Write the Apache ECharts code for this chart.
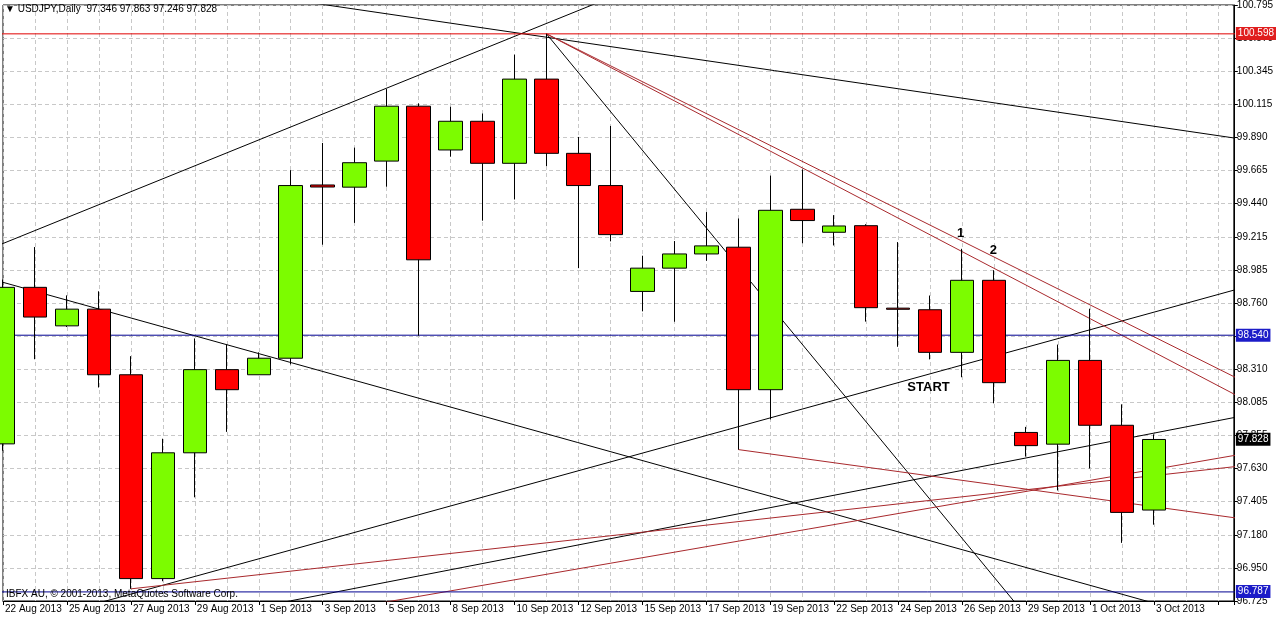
<!DOCTYPE html>
<html><head><meta charset="utf-8">
<script src="https://cdn.jsdelivr.net/npm/echarts@6/dist/echarts.min.js"></script>
<style>html,body{margin:0;padding:0;background:#fff;}#chart{width:1276px;height:619px;}</style>
</head><body><div id="chart"></div>
<script>
// ---- data ----
const barDates = ['22 Aug 2013','23 Aug 2013','25 Aug 2013','26 Aug 2013','27 Aug 2013','28 Aug 2013','29 Aug 2013','30 Aug 2013',
  '1 Sep 2013','2 Sep 2013','3 Sep 2013','4 Sep 2013','5 Sep 2013','6 Sep 2013','8 Sep 2013','9 Sep 2013','10 Sep 2013','11 Sep 2013',
  '12 Sep 2013','13 Sep 2013','15 Sep 2013','16 Sep 2013','17 Sep 2013','18 Sep 2013','19 Sep 2013','20 Sep 2013','22 Sep 2013',
  '23 Sep 2013','24 Sep 2013','25 Sep 2013','26 Sep 2013','27 Sep 2013','29 Sep 2013','30 Sep 2013','1 Oct 2013','2 Oct 2013','3 Oct 2013'];
const opens  = [97.798,98.867,98.604,98.718,98.270,96.878,97.737,98.305,98.270,98.383,99.566,99.551,99.729,100.104,99.805,100.001,99.714,100.289,
  99.782,99.562,98.839,98.998,99.095,99.141,98.168,99.400,99.243,99.288,98.725,98.714,98.423,98.915,97.876,97.796,98.368,97.925,97.346];
const closes = [98.867,98.664,98.718,98.270,96.878,97.737,98.305,98.168,98.383,99.562,99.552,99.718,100.104,99.055,100.001,99.714,100.289,99.782,
  99.562,99.227,98.998,99.095,99.150,98.168,99.393,99.323,99.286,98.728,98.717,98.423,98.915,98.216,97.786,98.368,97.925,97.330,97.828];
const lows   = [97.751,98.376,98.596,98.183,96.808,96.860,97.433,97.880,98.270,98.341,99.158,99.307,99.554,98.537,99.759,99.322,99.467,99.695,
  98.998,99.181,98.703,98.632,99.048,97.759,97.965,99.168,99.153,98.633,98.461,98.375,98.253,98.075,97.711,97.480,97.630,97.122,97.246];
const highs  = [98.920,99.142,98.812,98.840,98.397,97.833,98.518,98.477,98.423,99.667,99.853,99.821,100.221,100.123,100.100,100.054,100.456,100.598,
  99.894,99.969,99.083,99.183,99.381,99.337,99.630,99.672,99.360,99.298,99.176,98.811,99.130,98.984,97.914,98.476,98.721,98.068,97.863];
const yTickLabels = ['96.725','96.950','97.180','97.405','97.630','97.855','98.085','98.310','98.540','98.760','98.985','99.215','99.440',
  '99.665','99.890','100.115','100.345','100.570','100.795'];
const redLevel = 100.598;
const blueLevels = [98.540, 96.787];
const lastPrice = 97.828;
// trendlines: [barIndex, price] end points
const blackTrendlines = [
  [[-1, 99.078], [19, 100.846]],
  [[-1, 98.962], [40, 96.467]],
  [[9, 100.831], [40, 99.839]],
  [[17, 100.598], [33, 96.358]],
  [[2, 96.652], [40, 98.938]],
  [[8, 96.684], [40, 98.041]]
];
const redTrendlines = [
  [[17, 100.598], [40, 98.094]],
  [[17, 100.598], [40, 97.967]],
  [[4, 96.808], [40, 97.678]],
  [[11, 96.681], [40, 97.775]],
  [[23, 97.759], [40, 97.249]]
];
const annotations = [
  {text: '1', idx: 29.95, price: 99.238},
  {text: '2', idx: 30.98, price: 99.118},
  {text: 'START', idx: 28.95, price: 98.184}
];
const symbolName = 'USDJPY,Daily';
const copyright = 'IBFX AU, \u00a9 2001-2013, MetaQuotes Software Corp.';

// ---- chart ----
const FONT = '"Liberation Sans", Arial, "DejaVu Sans", sans-serif';
const Y_MIN = 96.725, Y_MAX = 100.795;
const Y_INT = (Y_MAX - Y_MIN) / 18;
const X_MIN = 0, X_MAX = 38.5;
const last = opens.length - 1;
const candleData = opens.map((o, i) => [i, o, closes[i], lows[i], highs[i]]);

const series = [];
const segSeries = (seg, color, z) => ({
  type: 'line', data: seg, symbol: 'none', silent: true, z: z, clip: true,
  lineStyle: {color: color, width: 1, type: 'solid'}
});
blackTrendlines.forEach(seg => series.push(segSeries(seg, '#000000', 2)));
redTrendlines.forEach(seg => series.push(segSeries(seg, '#a8282c', 2)));
// horizontal levels spanning the whole axis range
series.push(segSeries([[X_MIN - 1, redLevel], [X_MAX + 1, redLevel]], '#e00000', 2));
blueLevels.forEach(v => series.push(segSeries([[X_MIN - 1, v], [X_MAX + 1, v]], '#000090', 2)));

series.push({
  type: 'candlestick', data: candleData, encode: {x: 0, y: [1, 2, 3, 4]},
  barWidth: 24, z: 5,
  itemStyle: {color: '#7cfc00', color0: '#ff0000', borderColor: '#000', borderColor0: '#000', borderWidth: 1}
});
const lvlLabel = (v, bg) => ({
  name: v.toFixed(3), yAxis: v,
  lineStyle: {color: 'rgba(0,0,0,0)', width: 1, type: 'solid'},
  label: {show: true, position: 'end', distance: 2, color: '#fff', backgroundColor: bg,
    fontSize: 10, fontFamily: FONT, padding: [2, 2, 1, 2], formatter: '{b}'}
});
series.push({
  type: 'line', data: [], clip: false, z: 3, silent: true,
  markLine: {
    symbol: 'none', silent: true, animation: false,
    data: [
      lvlLabel(redLevel, '#e01e1e'),
      ...blueLevels.map(v => lvlLabel(v, '#1c1cc8')),
      lvlLabel(lastPrice, '#000000')
    ]
  },
  markPoint: {
    symbol: 'rect', symbolSize: 1, silent: true, animation: false,
    itemStyle: {color: 'rgba(0,0,0,0)'},
    label: {show: true, position: 'inside', formatter: '{b}', color: '#000', fontSize: 13, fontWeight: 'bold', fontFamily: FONT},
    data: annotations.map(a => ({name: a.text, coord: [a.idx, a.price]}))
  }
});

const chart = echarts.init(document.getElementById('chart'), null, {renderer: 'canvas'});
chart.setOption({
  animation: false,
  backgroundColor: '#ffffff',
  grid: {left: 3, right: 41, top: 3, bottom: 18, show: true, borderColor: '#000', borderWidth: 1, backgroundColor: '#fff'},
  xAxis: [
    {type: 'value', min: X_MIN, max: X_MAX, interval: 1, position: 'bottom',
     axisLine: {show: true, onZero: false, lineStyle: {color: '#000'}}, axisTick: {show: false}, axisLabel: {show: false},
     splitLine: {show: true, lineStyle: {color: '#c8c8c8', type: [4, 3], width: 1}}},
    {type: 'value', min: X_MIN, max: X_MAX, interval: 2, position: 'bottom',
     axisLine: {show: false, onZero: false}, axisTick: {show: true, length: 4, lineStyle: {color: '#000'}},
     axisLabel: {show: true, align: 'left', margin: 3, color: '#000', fontSize: 10, fontFamily: FONT, padding: [0, 0, 0, 2],
       formatter: v => (Number.isInteger(v) && barDates[v]) ? barDates[v] : ''},
     splitLine: {show: false}}
  ],
  yAxis: {
    type: 'value', position: 'right', min: Y_MIN, max: Y_MAX, interval: Y_INT,
    axisLine: {show: true, onZero: false, lineStyle: {color: '#000'}},
    axisTick: {show: true, length: 4, lineStyle: {color: '#000'}},
    axisLabel: {color: '#000', fontSize: 10, fontFamily: FONT, margin: 3,
      formatter: v => { const k = Math.round((v - Y_MIN) / Y_INT); return yTickLabels[k] !== undefined ? yTickLabels[k] : ''; }},
    splitLine: {show: true, lineStyle: {color: '#c8c8c8', type: [4, 3], width: 1}}
  },
  graphic: [
    {type: 'text', left: 5, top: 4, z: 100, silent: true,
     style: {text: '\u25BC ' + symbolName + '  ' + [opens[last], highs[last], lows[last], closes[last]].map(v => v.toFixed(3)).join(' '),
       fill: '#000', font: '10px ' + FONT}},
    {type: 'text', left: 6, top: 589, z: 100, silent: true,
     style: {text: copyright, fill: '#000', font: '10px ' + FONT}}
  ],
  series: series
});
</script></body></html>
